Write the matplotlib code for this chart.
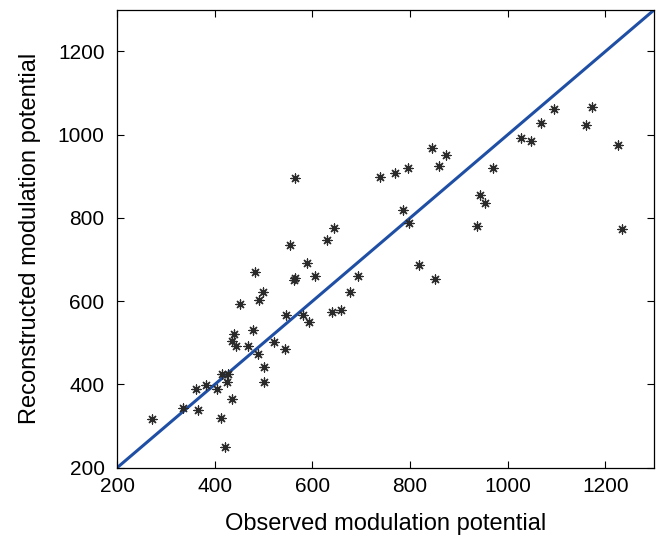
import matplotlib
matplotlib.use("Agg")
import matplotlib.pyplot as plt

plt.rcParams["font.family"] = ["Liberation Sans", "DejaVu Sans"]

# observed vs reconstructed modulation potential
observed = [272, 336, 365, 361, 382, 404, 415, 428, 425, 436, 413, 420,
            435, 440, 443, 468, 478, 489, 501, 500, 452, 482, 491, 498,
            521, 544, 546, 554, 564, 563, 565, 580, 589, 594, 605, 630,
            644, 641, 659, 677, 694, 739, 770, 795, 785, 798, 818, 845,
            859, 874, 852, 936, 943, 954, 969, 1027, 1047, 1069, 1094,
            1161, 1172, 1225, 1234]
reconstructed = [316, 344, 339, 390, 399, 390, 426, 424, 407, 366, 319, 250,
                 505, 521, 493, 493, 532, 472, 442, 405, 594, 671, 603, 622,
                 501, 485, 567, 735, 656, 652, 895, 567, 692, 550, 661, 748,
                 777, 573, 578, 623, 661, 899, 907, 921, 820, 788, 687, 968,
                 925, 952, 654, 781, 854, 835, 919, 993, 984, 1029, 1062,
                 1023, 1066, 976, 773]

lims = [200, 1300]
ticks = [200, 400, 600, 800, 1000, 1200]

fig = plt.figure(figsize=(6.69, 5.42), dpi=100)
ax = fig.add_axes([0.175, 0.137, 0.803, 0.845])

ax.plot(lims, lims, color="#1f4fa5", linewidth=2.2, zorder=2)
ax.scatter(observed, reconstructed, marker=(8, 2, 0), s=42,
           color="#2a2a2a", linewidths=0.9, zorder=3)

ax.set_xlim(lims)
ax.set_ylim(lims)
ax.set_xticks(ticks)
ax.set_yticks(ticks)
ax.tick_params(direction="in", top=True, right=True, labelsize=15,
               length=5, width=0.8)
ax.tick_params(axis="y", pad=9)
ax.tick_params(axis="x", pad=7)
for s in ax.spines.values():
    s.set_linewidth(0.9)

ax.set_xlabel("Observed modulation potential", fontsize=17, labelpad=12)
ax.set_ylabel("Reconstructed modulation potential", fontsize=17, labelpad=12)

fig.savefig("out.png", dpi=100)
